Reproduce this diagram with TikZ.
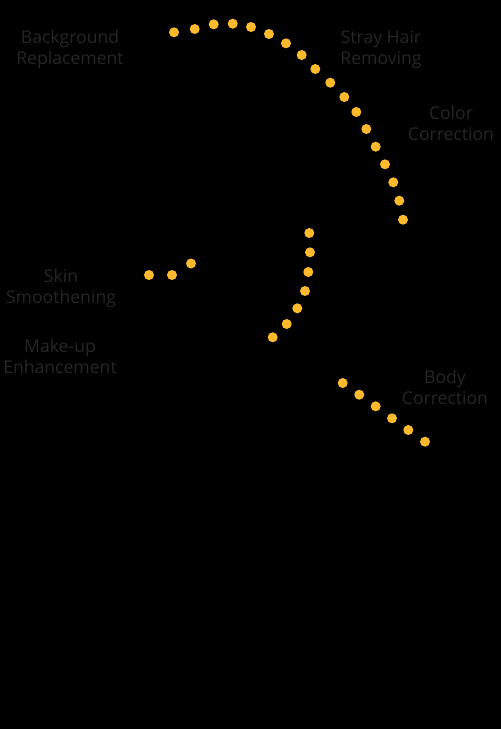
\documentclass[tikz,border=0pt]{standalone}
\usepackage{fontspec}
\setmainfont{Open Sans}
\definecolor{dotc}{HTML}{FDBA2C}
\definecolor{txtc}{HTML}{262626}
\tikzset{
  dotn/.style={circle,fill=dotc,inner sep=0pt,minimum size=10pt},
  lbl/.style={text=txtc,align=center,font=\fontsize{17.6}{21}\selectfont,inner sep=0pt}
}
\begin{document}
\begin{tikzpicture}[x=1pt,y=-1pt]
\fill[black] (0,0) rectangle (501,729);
\useasboundingbox (0,0) rectangle (501,729);
% arc of dots
\foreach \x/\y [count=\i] in {174/32.3,194.7/29,213.7/24.3,232.7/23.7,251/27,269/34,286/43.3,301.7/55,315.3/69,330.3/82.7,344.3/97,356.3/112,366.3/129,375.7/146.7,385/164.3,393.3/182.3,399.3/200.7,403/219.7}
  \node[dotn] (a\i) at (\x,\y) {};
% skin dots
\foreach \x/\y [count=\i] in {149/275,172/275,191/263.5}
  \node[dotn] (s\i) at (\x,\y) {};
% middle dots
\foreach \x/\y [count=\i] in {309.3/233,310/252.3,308.3/272,305/291,297.3/308.3,286.7/324,272.7/337.3}
  \node[dotn] (m\i) at (\x,\y) {};
% body dots
\foreach \x/\y [count=\i] in {342.7/383,359.3/394.7,375.7/406.3,392/418.3,408.3/430,425/441.7}
  \node[dotn] (b\i) at (\x,\y) {};
% labels
\node[lbl] (bg) at (70,49.5) {Background\\Replacement};
\node[lbl] (sh) at (381,49.5) {Stray Hair\\Removing};
\node[lbl] (cc) at (451,123.5) {Color\\Correction};
\node[lbl] (sk) at (61,288) {Skin\\Smoothening};
\node[lbl] (mu) at (60,356.5) {Make-up\\Enhancement};
\node[lbl] (bc) at (445,387.5) {Body\\Correction};
\end{tikzpicture}
\end{document}
